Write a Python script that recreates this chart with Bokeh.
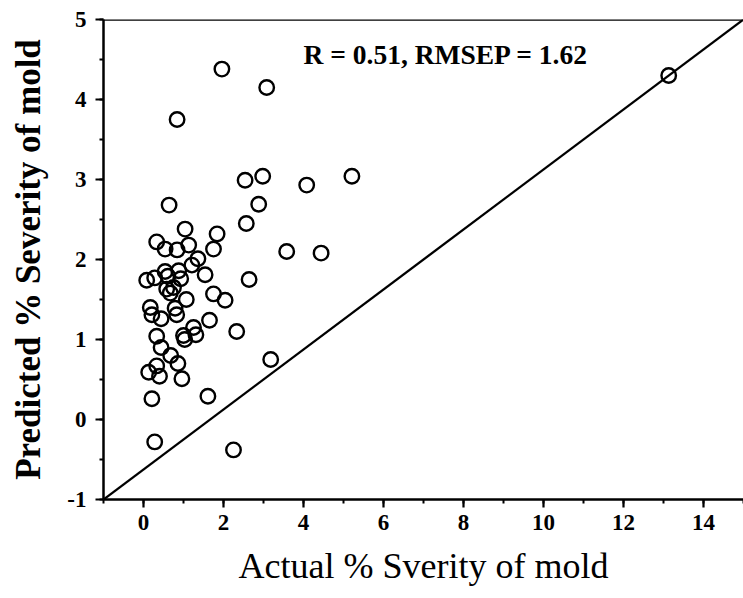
from bokeh.plotting import figure
from bokeh.models import Range1d, SingleIntervalTicker, Label, Span, PrintfTickFormatter
from bokeh.embed import file_html
from bokeh.resources import INLINE

# Data
actual = [1.96, 3.08, 0.84, 2.54, 2.98, 4.08, 5.21, 0.64, 2.88, 2.57,
          1.04, 1.84, 0.33, 0.54, 0.84, 1.13, 1.75, 3.58, 4.44, 1.36,
          1.21, 0.54, 0.88, 1.54, 0.08, 0.28, 0.61, 0.93, 2.64, 0.58,
          0.75, 0.67, 1.75, 1.07, 2.04, 0.17, 0.79, 0.21, 0.83, 0.44,
          1.65, 1.25, 2.33, 1.00, 1.31, 0.33, 1.03, 0.44, 0.68, 3.18,
          0.86, 0.33, 0.13, 0.40, 0.96, 0.21, 1.61, 0.28, 2.25, 13.13]
predicted = [4.38, 4.15, 3.75, 2.99, 3.04, 2.93, 3.04, 2.68, 2.69, 2.45,
             2.38, 2.32, 2.22, 2.13, 2.12, 2.18, 2.13, 2.10, 2.08, 2.01,
             1.93, 1.85, 1.86, 1.81, 1.74, 1.77, 1.79, 1.76, 1.75, 1.63,
             1.65, 1.58, 1.57, 1.50, 1.49, 1.40, 1.39, 1.31, 1.31, 1.26,
             1.24, 1.15, 1.10, 1.05, 1.06, 1.04, 1.00, 0.90, 0.80, 0.75,
             0.70, 0.67, 0.59, 0.54, 0.51, 0.26, 0.29, -0.28, -0.38, 4.30]
ref_line_x = [-1, 15]
ref_line_y = [-1, 5]
stats_text = "R = 0.51, RMSEP = 1.62"

SERIF = "Liberation Serif"

p = figure(width=743, height=598, output_backend="svg", toolbar_location=None,
           x_range=Range1d(-1, 15), y_range=Range1d(-1, 5),
           min_border_left=103, min_border_right=0, min_border_top=19, min_border_bottom=99)
p.outline_line_color = None
p.xgrid.visible = False
p.ygrid.visible = False
p.background_fill_color = "white"
p.border_fill_color = "white"

p.line(ref_line_x, ref_line_y, line_color="black", line_width=2.3)
p.scatter(actual, predicted, marker="circle", size=14.5, fill_alpha=0,
          line_color="black", line_width=2.4)

p.add_layout(Span(location=5, dimension="width", line_color="black", line_width=2.5))

p.add_layout(Label(x=4.0, y=4.56, text=stats_text, text_font=SERIF,
                   text_font_style="bold", text_font_size="27.5px",
                   text_baseline="middle", text_color="black"))

p.xaxis.ticker = SingleIntervalTicker(interval=2, num_minor_ticks=2)
p.yaxis.ticker = SingleIntervalTicker(interval=1, num_minor_ticks=2)
p.yaxis.formatter = PrintfTickFormatter(format="%d")
p.xaxis.formatter = PrintfTickFormatter(format="%d")

for ax in (p.xaxis[0], p.yaxis[0]):
    ax.axis_line_width = 2.5
    ax.axis_line_color = "black"
    ax.major_tick_line_width = 2.2
    ax.minor_tick_line_width = 2
    ax.major_tick_out = 8
    ax.major_tick_in = 0
    ax.minor_tick_out = 4
    ax.minor_tick_in = 0
    ax.major_label_text_font = SERIF
    ax.major_label_text_font_style = "bold"
    ax.major_label_text_font_size = "23px"
    ax.major_label_text_color = "black"
    ax.axis_label_text_font = SERIF
    ax.axis_label_text_color = "black"

p.xaxis.axis_label = "Actual % Sverity of mold"
p.xaxis.axis_label_text_font_style = "normal"
p.xaxis.axis_label_text_font_size = "36px"
p.xaxis.axis_label_standoff = 13
p.xaxis.major_label_standoff = 7
p.yaxis.axis_label = "Predicted % Severity of mold"
p.yaxis.axis_label_text_font_style = "bold"
p.yaxis.axis_label_text_font_size = "35px"
p.yaxis.axis_label_standoff = 16
p.yaxis.major_label_standoff = 9

open("out.html", "w").write(file_html(p, INLINE))
